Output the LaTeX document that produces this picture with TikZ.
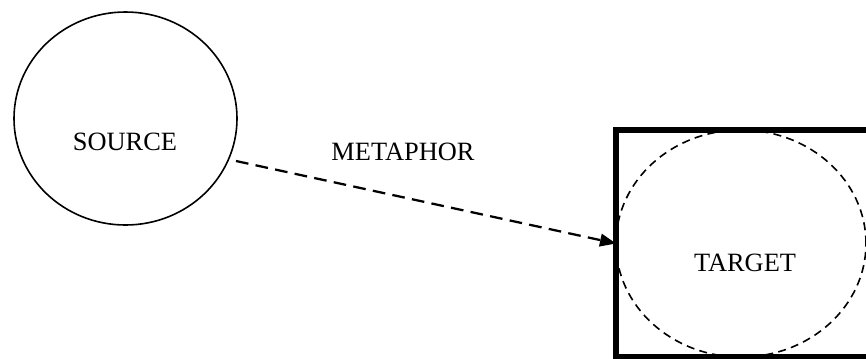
\documentclass[tikz,border=0pt]{standalone}
\usepackage{fontspec}
\setmainfont{Liberation Serif}
\usetikzlibrary{shapes.geometric,arrows.meta}
\tikzset{
  lbl/.style={font=\fontsize{19.8}{24}\selectfont, inner sep=0pt},
  dashlink/.style={line width=1.7pt, dash pattern=on 9.5pt off 5.5pt, -{Triangle[length=12pt,width=9.5pt]}},
  dashell/.style={draw, ellipse, line width=1.2pt, dash pattern=on 6pt off 4pt},
}
\begin{document}
\begin{tikzpicture}[x=0.75pt,y=-0.75pt]
\useasboundingbox (0,0) rectangle (866,358);
% source
\node[draw, ellipse, line width=1.2pt, minimum width=167.25pt, minimum height=159.75pt, inner sep=0pt] (src) at (125.5,118.5) {};
\node[lbl] (srclbl) at (125,142) {SOURCE};
% target box and ellipse
\node[draw, rectangle, line width=4.5pt, outer sep=0pt, minimum width=192pt, minimum height=170.25pt, inner sep=0pt] (box) at (744,243.5) {};
\node[dashell, minimum width=187.5pt, minimum height=170.25pt, inner sep=0pt] (tgt) at (741,243.5) {};
\node[lbl] (tgtlbl) at (745,263) {TARGET};
% metaphor
\node[lbl] (met) at (403,152) {METAPHOR};
\coordinate (start) at (236,161);
\draw[dashlink] (start) -- (box.west);
\end{tikzpicture}
\end{document}
